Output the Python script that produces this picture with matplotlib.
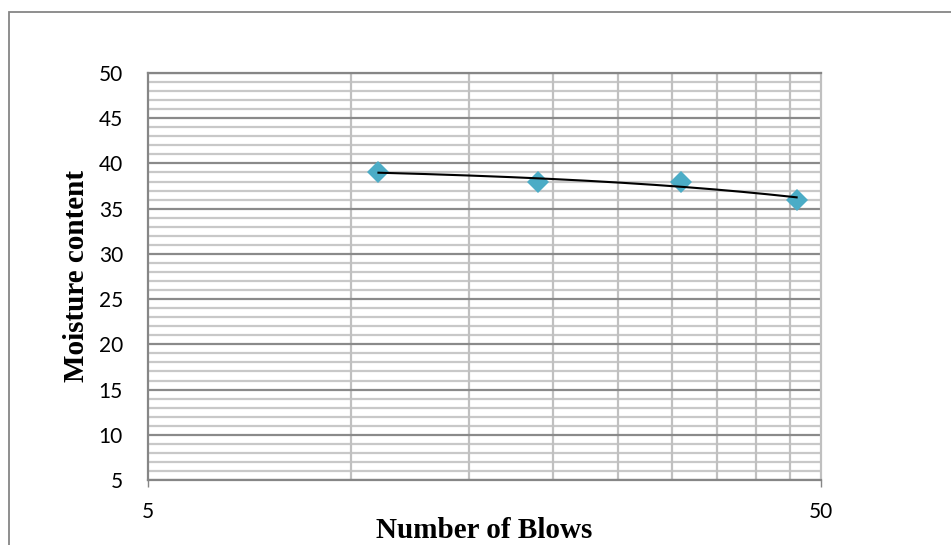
import numpy as np
import matplotlib
matplotlib.use("Agg")
import matplotlib.pyplot as plt
from matplotlib.ticker import FixedLocator, NullFormatter, FixedFormatter
from matplotlib.patches import Rectangle

blows = [11, 19, 31, 46]
moisture = [39, 38, 38, 36]
x_ticks = [5, 50]
x_tick_labels = ["5", "50"]
x_minor = [10, 15, 20, 25, 30, 35, 40, 45]
y_ticks = [5, 10, 15, 20, 25, 30, 35, 40, 45, 50]

W, H = 951, 545
fig = plt.figure(figsize=(W / 100, H / 100), dpi=100)
fig.patch.set_facecolor("white")

# outer chart frame
fig.add_artist(Rectangle((9 / W, 0 - 0.01), 1.05, 1 - 12 / H + 0.01,
                         transform=fig.transFigure, fill=False,
                         edgecolor="#868686", linewidth=1.3))

ax = fig.add_axes([148 / W, 1 - 480 / H, (821 - 148) / W, (480 - 73) / H])
ax.set_xscale("log")
ax.set_xlim(5, 50)
ax.set_ylim(5, 50)

# gridlines
for y in range(5, 51):
    if y % 5 == 0:
        continue
    ax.axhline(y, color="#c8c8c8", linewidth=1.6, zorder=1)
for x in x_minor:
    ax.axvline(x, color="#c0c0c0", linewidth=1.6, zorder=1)
for y in y_ticks:
    ax.axhline(y, color="#8a8a8a", linewidth=1.6, zorder=1.5)

ax.xaxis.set_major_locator(FixedLocator(x_ticks))
ax.xaxis.set_major_formatter(FixedFormatter(x_tick_labels))
ax.xaxis.set_minor_locator(FixedLocator([]))
ax.xaxis.set_minor_formatter(NullFormatter())
ax.yaxis.set_major_locator(FixedLocator(y_ticks))

ax.tick_params(axis="x", length=5, width=1, color="#868686", pad=11,
               labelsize=15)
ax.tick_params(axis="y", length=0, pad=18, labelsize=15)
for lbl in ax.get_xticklabels() + ax.get_yticklabels():
    lbl.set_fontfamily("Lato")

for s in ["left", "bottom", "top"]:
    ax.spines[s].set_color("#868686")
    ax.spines[s].set_linewidth(1.6)
ax.spines["right"].set_color("#c0c0c0")
ax.spines["right"].set_linewidth(1.6)

# linear trendline
coef = np.polyfit(blows, moisture, 1)
xs = np.linspace(min(blows), max(blows), 200)
ax.plot(xs, np.polyval(coef, xs), color="black", linewidth=1.5, zorder=4)

ax.plot(blows, moisture, linestyle="none", marker="D", markersize=11,
        color="#4bacc6", markeredgewidth=0, zorder=3)

ax.set_xlabel("Number of Blows", fontfamily="Liberation Serif",
              fontweight="bold", fontsize=21)
ax.xaxis.set_label_coords(0.5, -0.091)
ax.set_ylabel("Moisture content", fontfamily="Liberation Serif",
              fontweight="bold", fontsize=21, labelpad=6)

fig.savefig("out.png", dpi=100)
